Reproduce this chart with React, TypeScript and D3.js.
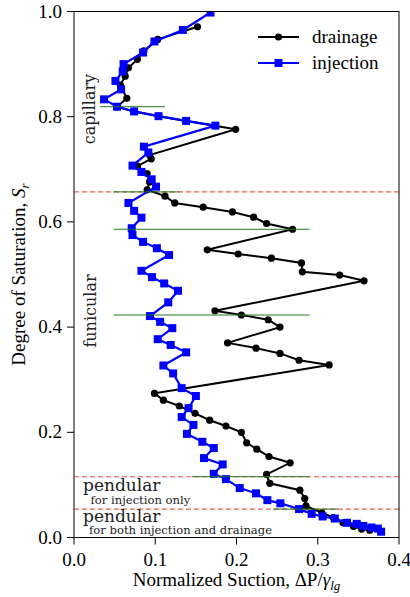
import React from "react";
import * as d3 from "d3";

const drainageSuction = [0.152,0.103,0.086,0.078,0.067,0.063,0.057,0.065,0.053,0.074,0.104,0.138,0.199,0.093,0.095,0.078,0.090,0.093,0.090,0.112,0.124,0.159,0.195,0.221,0.237,0.269,0.164,0.202,0.243,0.280,0.281,0.327,0.357,0.1735,0.206,0.239,0.2535,0.189,0.224,0.2535,0.277,0.314,0.099,0.110,0.1296,0.149,0.167,0.187,0.206,0.2125,0.225,0.240,0.266,0.237,0.241,0.278,0.284,0.2855,0.305,0.319,0.331,0.344,0.354,0.364];
const drainageSr = [0.971,0.947,0.925,0.909,0.893,0.877,0.860,0.835,0.819,0.810,0.801,0.792,0.776,0.727,0.720,0.706,0.692,0.676,0.661,0.649,0.636,0.628,0.619,0.609,0.597,0.586,0.547,0.539,0.531,0.522,0.505,0.499,0.488,0.431,0.423,0.414,0.400,0.370,0.360,0.350,0.337,0.328,0.274,0.261,0.250,0.236,0.223,0.212,0.200,0.180,0.168,0.154,0.142,0.120,0.103,0.090,0.074,0.060,0.047,0.038,0.028,0.021,0.016,0.014];

const injectionSuction = [0.168,0.134,0.099,0.085,0.061,0.060,0.051,0.058,0.037,0.053,0.074,0.104,0.138,0.174,0.086,0.0915,0.072,0.083,0.0956,0.101,0.067,0.074,0.083,0.071,0.072,0.085,0.102,0.117,0.083,0.096,0.111,0.128,0.116,0.0935,0.106,0.121,0.103,0.119,0.138,0.110,0.122,0.1325,0.150,0.141,0.1325,0.147,0.139,0.158,0.172,0.160,0.183,0.172,0.187,0.204,0.224,0.238,0.254,0.277,0.2925,0.306,0.321,0.336,0.348,0.356,0.366,0.374,0.378];
const injectionSr = [0.998,0.965,0.943,0.922,0.900,0.886,0.868,0.852,0.833,0.819,0.810,0.801,0.792,0.783,0.743,0.732,0.707,0.695,0.681,0.667,0.636,0.621,0.608,0.588,0.575,0.562,0.550,0.537,0.507,0.495,0.483,0.469,0.447,0.421,0.410,0.398,0.377,0.366,0.352,0.327,0.312,0.284,0.269,0.246,0.229,0.214,0.197,0.182,0.170,0.151,0.139,0.121,0.111,0.094,0.084,0.071,0.065,0.054,0.045,0.040,0.036,0.028,0.026,0.022,0.019,0.017,0.011];

const greenSr = [0.819,0.657,0.586,0.423,0.1156,0.054];
const greenFrom = [0.032,0.048,0.049,0.049,0.145,0.245];
const greenTo = [0.112,0.130,0.290,0.290,0.290,0.325];
const redSr = [0.657,0.1156,0.054];

const xTicks = [0.0,0.1,0.2,0.3,0.4];
const yTicks = [0.0,0.2,0.4,0.6,0.8,1.0];

const W = 410, H = 597;
const X0 = 74, X1 = 399, Y0 = 537.5, Y1 = 11.5;

export default function App() {
  const x = d3.scaleLinear().domain([0, 0.4]).range([X0, X1]);
  const y = d3.scaleLinear().domain([0, 1]).range([Y0, Y1]);
  const dr = drainageSuction.map((v, i) => [v, drainageSr[i]] as [number, number]);
  const inj = injectionSuction.map((v, i) => [v, injectionSr[i]] as [number, number]);
  const line = d3.line<[number, number]>().x(d => x(d[0])).y(d => y(d[1]));
  const serif = "Liberation Serif, DejaVu Serif, serif";
  const dejavu = "DejaVu Serif, serif";
  return (
    <div style={{ position: "absolute", left: 0, top: 0 }}>
      <svg width={W} height={H} style={{ display: "block", background: "#fff" }}>
        <defs>
          <clipPath id="plotclip">
            <rect x={X0} y={Y1} width={X1 - X0} height={Y0 - Y1} />
          </clipPath>
        </defs>
        <g clipPath="url(#plotclip)">
          {redSr.map((s, i) => (
            <line key={"r" + i} x1={X0} x2={X1} y1={y(s)} y2={y(s)} stroke="#f03c3c" strokeOpacity={0.85} strokeWidth={1.1} strokeDasharray="5,3" />
          ))}
          <path d={line(dr) || ""} fill="none" stroke="#000" strokeWidth={2} />
          {dr.map((d, i) => (
            <circle key={"d" + i} cx={x(d[0])} cy={y(d[1])} r={3.6} fill="#000" />
          ))}
          <path d={line(inj) || ""} fill="none" stroke="#0000ff" strokeWidth={2.2} />
          {inj.map((d, i) => (
            <rect key={"i" + i} x={x(d[0]) - 4} y={y(d[1]) - 4} width={8} height={8} fill="#0000ff" />
          ))}
          {greenSr.map((s, i) => (
            <line key={"g" + i} x1={x(greenFrom[i])} x2={x(greenTo[i])} y1={y(s)} y2={y(s)} stroke="#1e7a1e" strokeWidth={1} />
          ))}
        </g>
        <rect x={X0} y={Y1} width={X1 - X0} height={Y0 - Y1} fill="none" stroke="#000" strokeWidth={1} />
        {xTicks.map((t) => (
          <g key={"xt" + t}>
            <line x1={x(t)} x2={x(t)} y1={Y0} y2={Y0 + 7} stroke="#000" strokeWidth={1} />
            <text x={x(t)} y={Y0 + 28} textAnchor="middle" fontFamily={serif} fontSize={19} fill="#000">{t.toFixed(1)}</text>
          </g>
        ))}
        {yTicks.map((t) => (
          <g key={"yt" + t}>
            <line x1={X0 - 7} x2={X0} y1={y(t)} y2={y(t)} stroke="#000" strokeWidth={1} />
            <text x={X0 - 12} y={y(t) + 6} textAnchor="end" fontFamily={serif} fontSize={19} fill="#000">{t.toFixed(1)}</text>
          </g>
        ))}
        <text x={(X0 + X1) / 2} y={586} textAnchor="middle" fontFamily={serif} fontSize={19} fill="#000">
          Normalized Suction, ΔP/<tspan fontStyle="italic">γ</tspan><tspan fontStyle="italic" fontSize={13} dy={4}>lg</tspan>
        </text>
        <text transform={`translate(25,${(Y0 + Y1) / 2}) rotate(-90)`} textAnchor="middle" fontFamily={serif} fontSize={19} fill="#000">
          Degree of Saturation, <tspan fontStyle="italic">S</tspan><tspan fontStyle="italic" fontSize={13} dy={4}>r</tspan>
        </text>
        <text transform={`translate(95,109) rotate(-90)`} textAnchor="middle" fontFamily={dejavu} fontSize={16} fill="#222">capillary</text>
        <text transform={`translate(96,311) rotate(-90)`} textAnchor="middle" fontFamily={dejavu} fontSize={16} fill="#222">funicular</text>
        <text x={83} y={491} fontFamily={dejavu} fontSize={17} fill="#222">pendular</text>
        <text x={90.5} y={503.5} fontFamily={dejavu} fontSize={11.6} fill="#222">for injection only</text>
        <text x={83} y={522} fontFamily={dejavu} fontSize={17} fill="#222">pendular</text>
        <text x={89} y={534} fontFamily={dejavu} fontSize={11.6} fill="#222">for both injection and drainage</text>
        <line x1={258} x2={299} y1={37} y2={37} stroke="#000" strokeWidth={2} />
        <circle cx={278.5} cy={37} r={3.6} fill="#000" />
        <text x={312} y={43} fontFamily={serif} fontSize={19} fill="#000">drainage</text>
        <line x1={258} x2={299} y1={63} y2={63} stroke="#0000ff" strokeWidth={2.2} />
        <rect x={274.5} y={59} width={8} height={8} fill="#0000ff" />
        <text x={312} y={69} fontFamily={serif} fontSize={19} fill="#000">injection</text>
      </svg>
    </div>
  );
}
